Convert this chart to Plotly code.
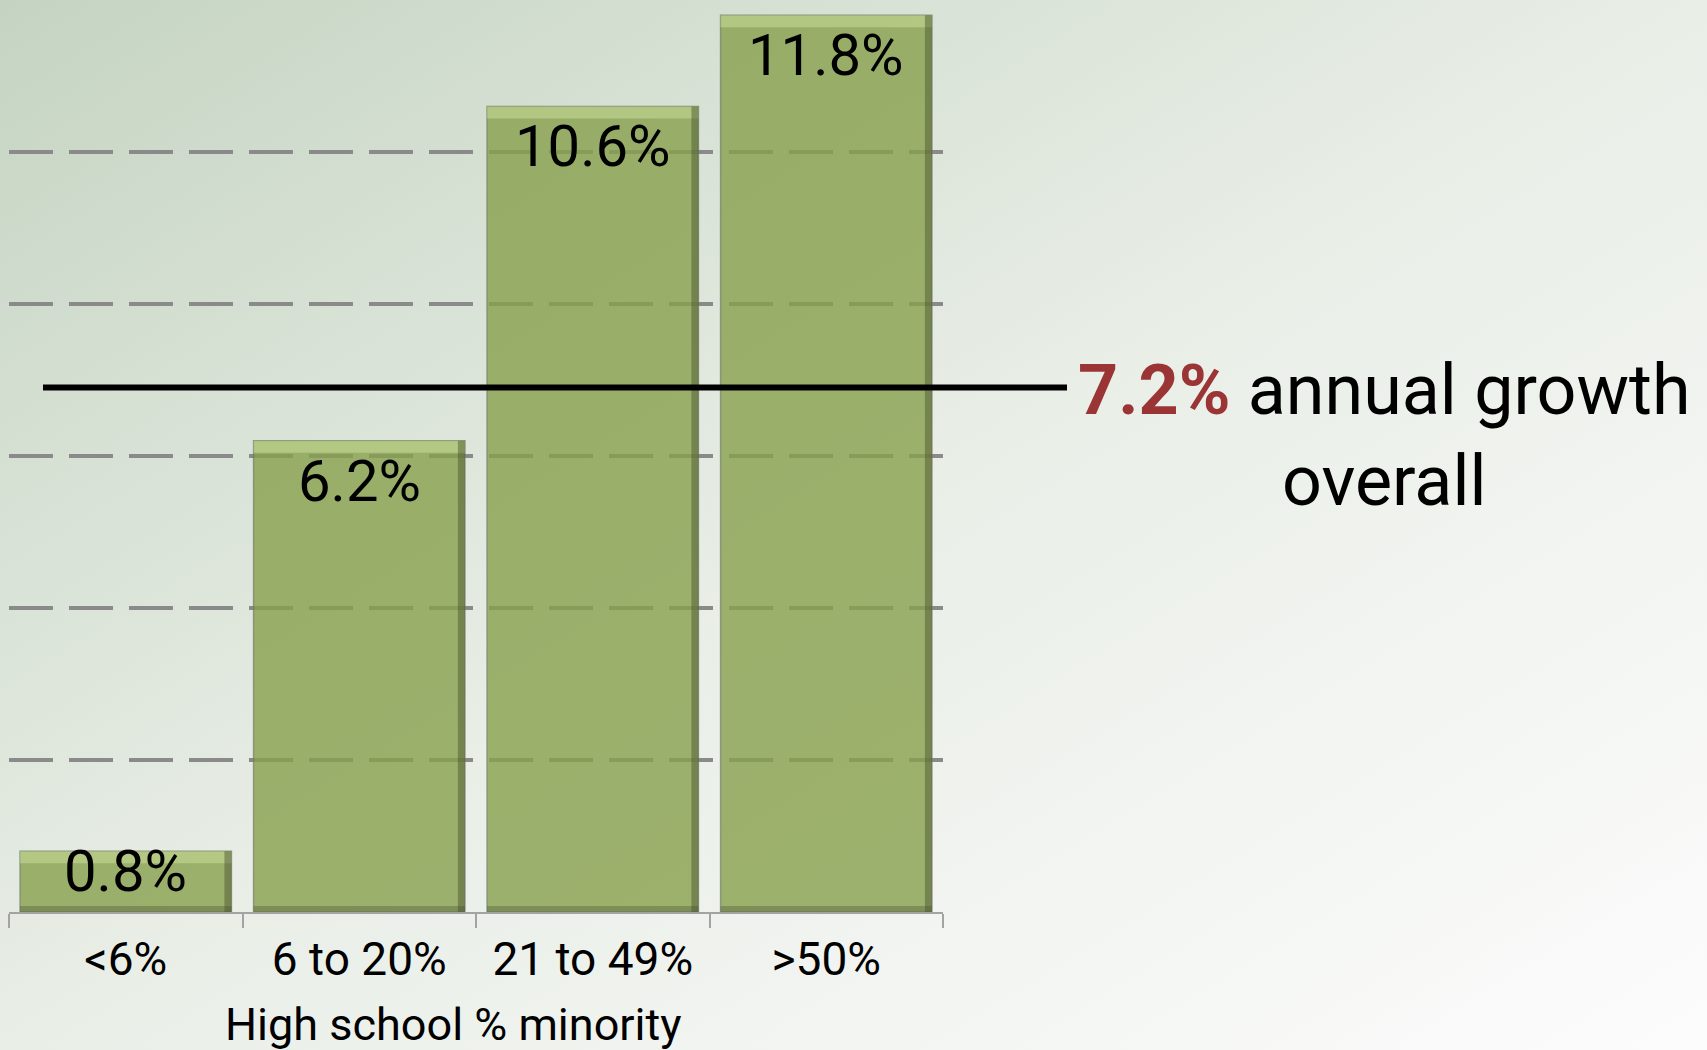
import base64
import plotly.graph_objects as go

# ---- data ----
categories = ["<6%", "6 to 20%", "21 to 49%", ">50%"]
growth = [0.8, 6.2, 10.6, 11.8]
value_labels = ["0.8%", "6.2%", "10.6%", "11.8%"]
overall_label = "7.2%"
overall_line_level = 6.9   # where the reference line is drawn
x_title = "High school % minority"
grid_vals = [2, 4, 6, 8, 10]

# ---- geometry ----
W, H = 1707, 1050
ML, MR, MT, MB = 9, 764, 0, 138
PW, PH = W - ML - MR, H - MT - MB
Y_MAX = 12
ppu = PH / Y_MAX
BAR_W = 0.905
FONT = "Roboto, Liberation Sans, Arial, sans-serif"

# gradient background as svg image
svg = f"""<svg xmlns='http://www.w3.org/2000/svg' width='{W}' height='{H}'>
<defs><linearGradient id='g' x1='0' y1='0' x2='1' y2='1'>
<stop offset='0' stop-color='#c5d4c2'/>
<stop offset='0.5' stop-color='#e9eee7'/>
<stop offset='1' stop-color='#fcfcfc'/>
</linearGradient></defs>
<rect width='{W}' height='{H}' fill='url(#g)'/></svg>"""
bg_src = "data:image/svg+xml;base64," + base64.b64encode(svg.encode()).decode()

fig = go.Figure()

# main bars
fig.add_trace(go.Bar(
    x=categories, y=growth, width=BAR_W,
    marker=dict(color="rgb(136,161,77)", opacity=0.8,
                line=dict(color="rgba(110,120,90,0.9)", width=1.5)),
    hoverinfo="skip", showlegend=False))

# bevel: top highlight
d_top = 12 / ppu
fig.add_trace(go.Bar(
    x=categories, y=[d_top] * len(growth), base=[v - d_top for v in growth],
    width=BAR_W,
    marker=dict(color="rgba(205,225,155,0.5)", line=dict(width=0)),
    hoverinfo="skip", showlegend=False))
# bevel: right shadow
d_side = 7 / (PW / len(categories))
fig.add_trace(go.Bar(
    x=categories, y=growth, width=d_side, offset=BAR_W / 2 - d_side,
    marker=dict(color="rgba(70,80,45,0.45)", line=dict(width=0)),
    hoverinfo="skip", showlegend=False))
# bevel: bottom shadow
d_bot = 6 / ppu
fig.add_trace(go.Bar(
    x=categories, y=[d_bot] * len(growth), width=BAR_W,
    marker=dict(color="rgba(70,80,45,0.35)", line=dict(width=0)),
    hoverinfo="skip", showlegend=False))

fig.update_layout(
    width=W, height=H,
    margin=dict(l=ML, r=MR, t=MT, b=MB),
    barmode="overlay",
    paper_bgcolor="#eef1ec",
    plot_bgcolor="rgba(0,0,0,0)",
    font=dict(family=FONT, color="black"),
    images=[dict(source=bg_src, xref="paper", yref="paper",
                 x=-ML / PW, y=1 + MT / PH, sizex=W / PW, sizey=H / PH,
                 xanchor="left", yanchor="top", sizing="stretch", layer="below")],
    xaxis=dict(range=[-0.5, 3.5], showgrid=False, zeroline=False,
               showline=True, linecolor="#a3a3a3", linewidth=2,
               ticks="outside", tickson="boundaries", ticklen=14,
               tickcolor="#a3a3a3", tickwidth=2, ticklabelstandoff=6,
               tickfont=dict(size=46, family=FONT, color="black"),
               fixedrange=True),
    yaxis=dict(range=[0, Y_MAX], tickvals=grid_vals, showticklabels=False,
               showgrid=True, gridcolor="#8a8a8a", gridwidth=4,
               griddash="44px,16px", zeroline=False, showline=False,
               fixedrange=True),
)

# value labels
for cat, v, lab in zip(categories, growth, value_labels):
    if v * ppu > 90:
        fig.add_annotation(x=cat, y=v, text=lab, showarrow=False,
                           xanchor="center", yanchor="top", yshift=-4,
                           font=dict(size=58, family=FONT, color="black"))
    else:
        fig.add_annotation(x=cat, y=0, text=lab, showarrow=False,
                           xanchor="center", yanchor="bottom", yshift=5,
                           font=dict(size=58, family=FONT, color="black"))

# overall line
fig.add_shape(type="line", xref="paper", yref="y",
              x0=(43 - ML) / PW, x1=(1067 - ML) / PW,
              y0=overall_line_level, y1=overall_line_level,
              line=dict(color="black", width=6), layer="above")
fig.add_annotation(xref="paper", yref="y", x=(1384 - ML) / PW, y=overall_line_level,
                   xanchor="center", yanchor="middle", yshift=-48,
                   showarrow=False, align="center",
                   text=f"<span style='color:#9b3535'><b>{overall_label}</b></span> annual growth<br>overall",
                   font=dict(size=70, family=FONT, color="black"))

# x title
fig.add_annotation(xref="paper", yref="paper", x=(453 - ML) / PW, y=-(1024 - PH) / PH,
                   xanchor="center", yanchor="middle", showarrow=False, text=x_title,
                   font=dict(size=45, family=FONT, color="black"))

fig.write_html("out.html", config={"displayModeBar": False},
               post_script="document.body.style.margin='0';document.body.style.overflow='hidden';")
